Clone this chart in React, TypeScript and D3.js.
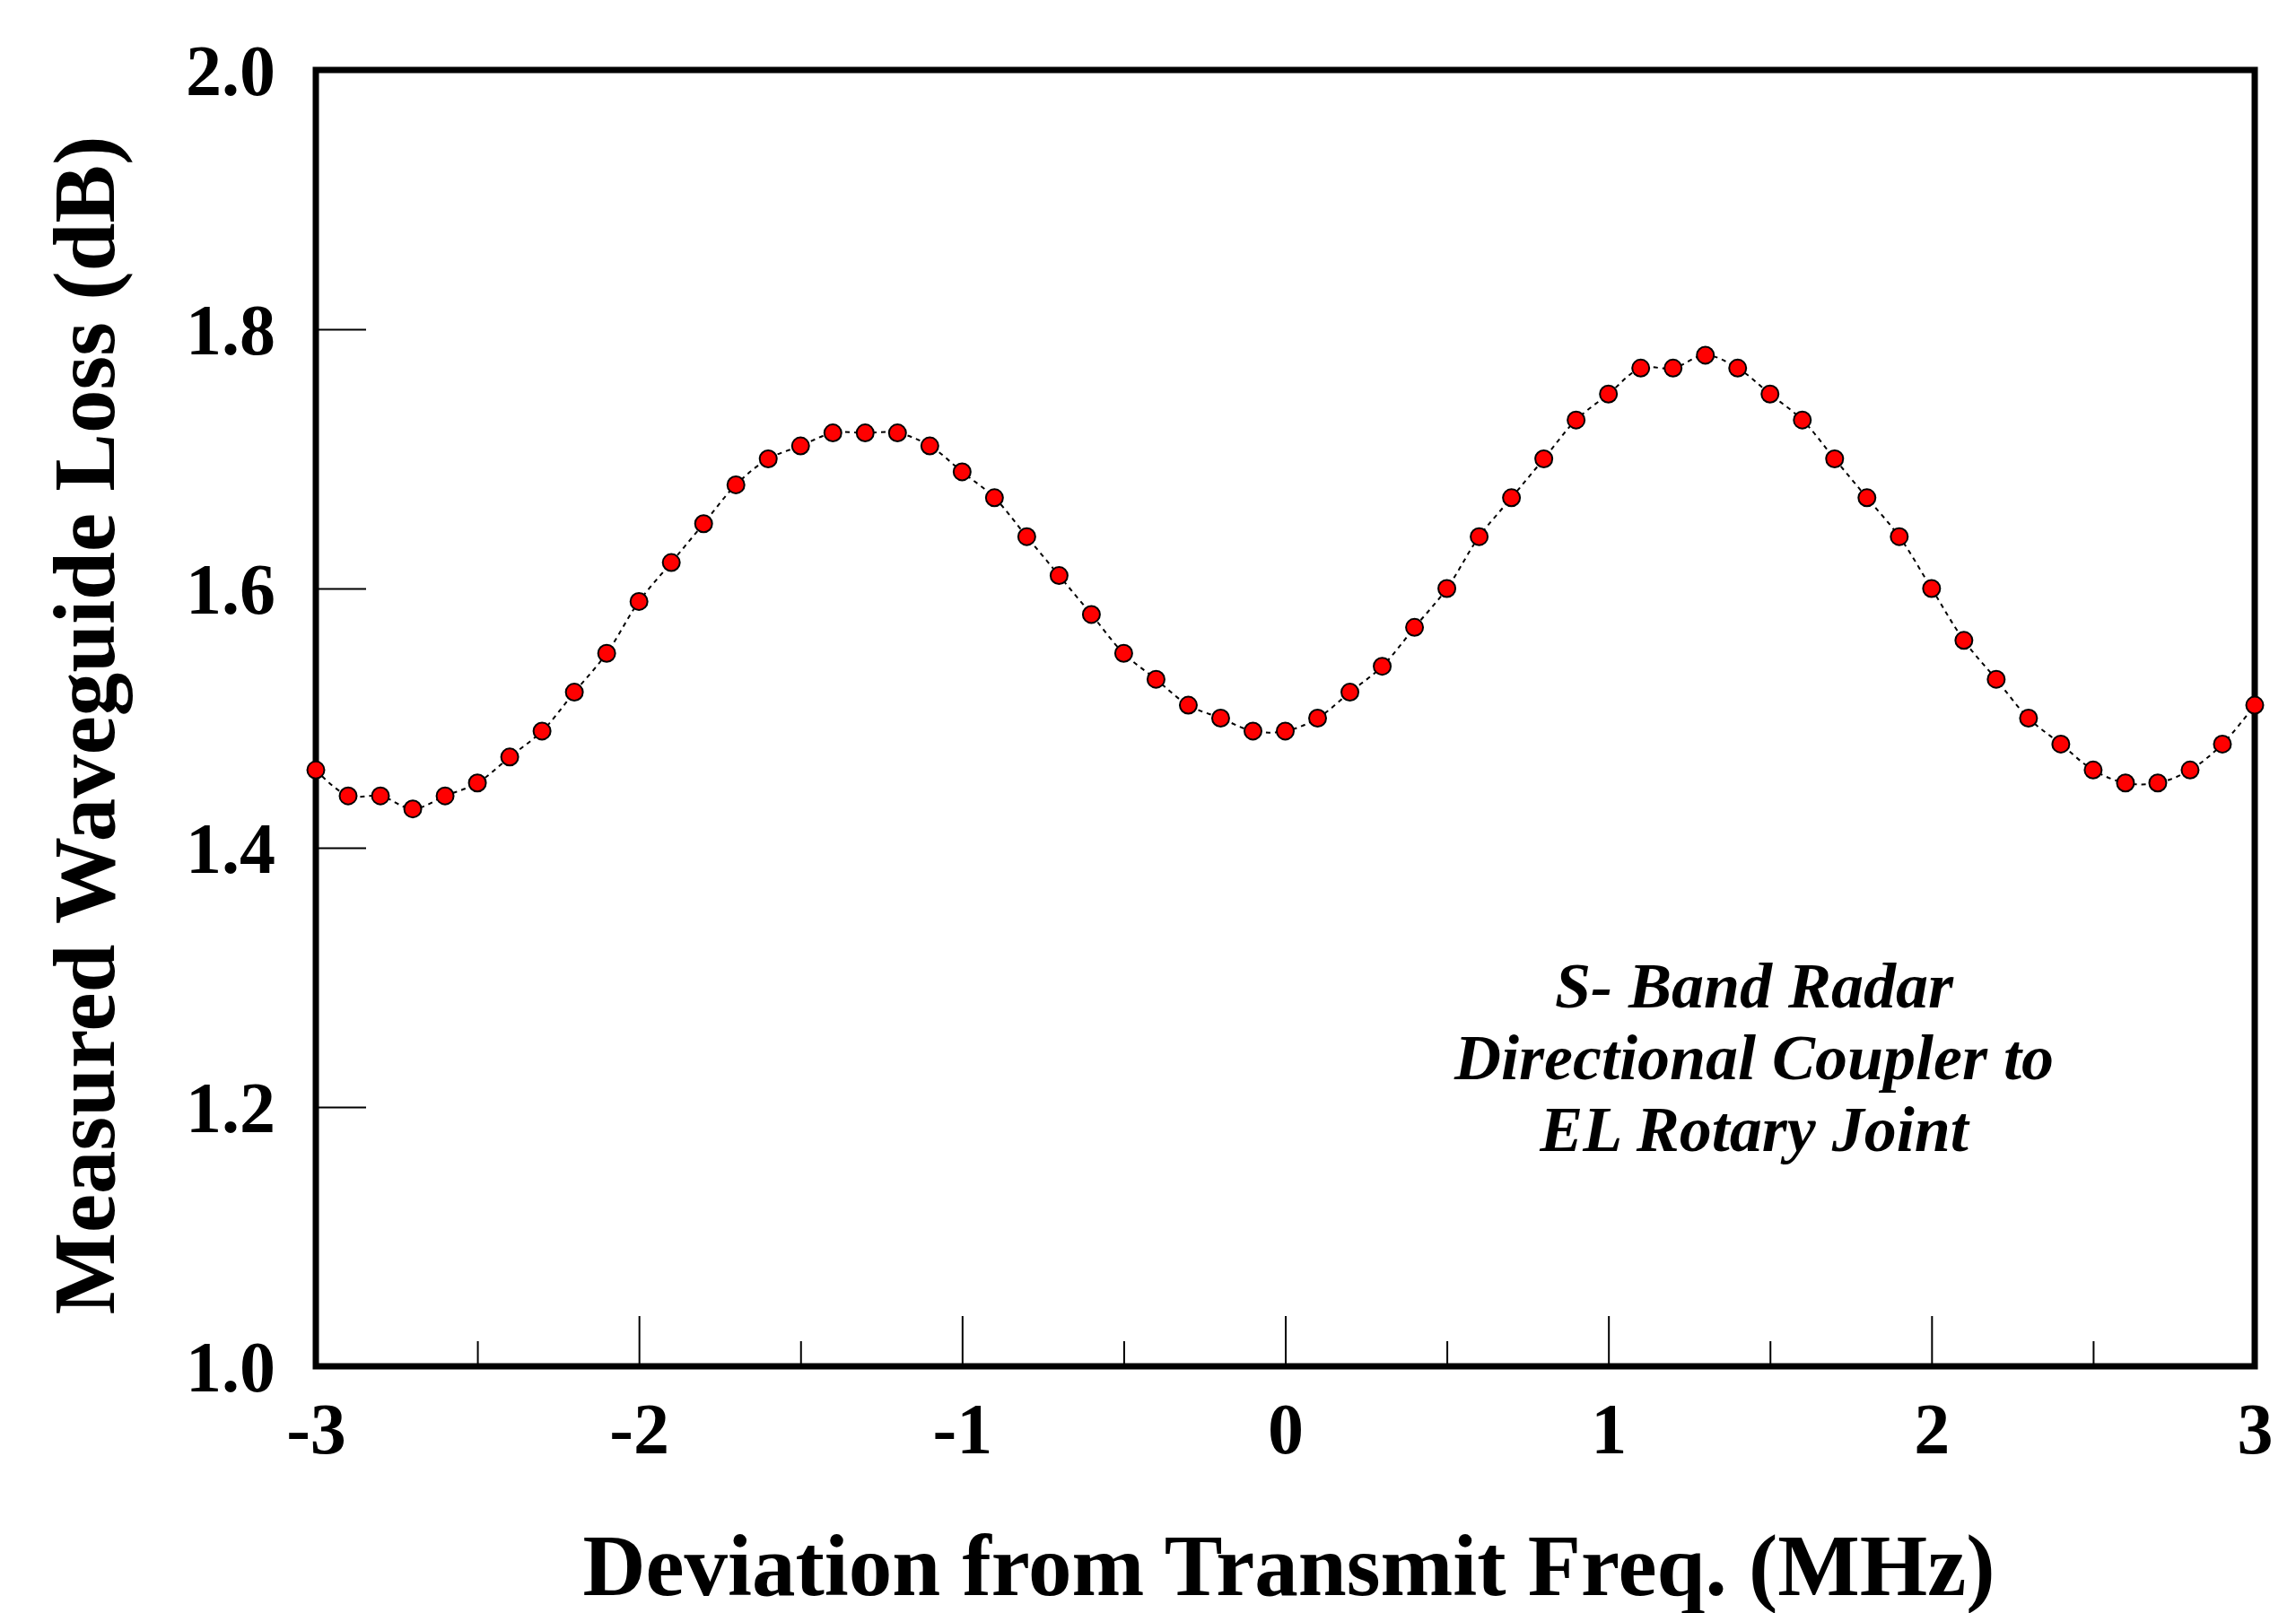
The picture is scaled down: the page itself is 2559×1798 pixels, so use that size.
import React, { useEffect, useRef } from 'react';
import * as d3 from 'd3';

// deviation from transmit frequency (MHz), step 0.1
const freqs = d3.range(61).map(i => Math.round((-3 + i * 0.1) * 10) / 10);

// measured waveguide loss (dB)
const loss = [
  1.46, 1.44, 1.44, 1.43, 1.44, 1.45, 1.47, 1.49, 1.52, 1.55,
  1.59, 1.62, 1.65, 1.68, 1.70, 1.71, 1.72, 1.72, 1.72, 1.71,
  1.69, 1.67, 1.64, 1.61, 1.58, 1.55, 1.53, 1.51, 1.50, 1.49,
  1.49, 1.50, 1.52, 1.54, 1.57, 1.60, 1.64, 1.67, 1.70, 1.73,
  1.75, 1.77, 1.77, 1.78, 1.77, 1.75, 1.73, 1.70, 1.67, 1.64,
  1.60, 1.56, 1.53, 1.50, 1.48, 1.46, 1.45, 1.45, 1.46, 1.48,
  1.51,
];

const xTicks = [-3, -2, -1, 0, 1, 2, 3];
const xMinorTicks = [-2.5, -1.5, -0.5, 0.5, 1.5, 2.5];
const yTicks = [1.0, 1.2, 1.4, 1.6, 1.8, 2.0];
const noteLines = ['S- Band Radar', 'Directional Coupler to', 'EL Rotary Joint'];

function LossChart() {
  const ref = useRef(null);

  useEffect(() => {
    const W = 2559, H = 1798;
    const m = { left: 352, right: 2513, top: 78, bottom: 1523 };
    const font = '"Liberation Serif", "Times New Roman", serif';

    const svg = d3.select(ref.current)
      .attr('width', W)
      .attr('height', H)
      .style('background', '#fff');
    svg.selectAll('*').remove();

    const x = d3.scaleLinear().domain([-3, 3]).range([m.left, m.right]);
    const y = d3.scaleLinear().domain([1.0, 2.0]).range([m.bottom, m.top]);

    // y axis, ticks pointing inward
    const yAxis = svg.append('g')
      .attr('transform', `translate(${m.left},0)`)
      .call(d3.axisLeft(y).tickValues(yTicks).tickFormat(d3.format('.1f'))
        .tickSize(-56).tickPadding(45));
    yAxis.select('.domain').remove();
    yAxis.selectAll('line').attr('stroke', '#000').attr('stroke-width', 2);
    yAxis.selectAll('text')
      .attr('font-family', font).attr('font-weight', 'bold')
      .attr('font-size', 80).attr('fill', '#000').attr('dy', '0.34em');

    // x axis (plain hyphen for negatives)
    const xAxis = svg.append('g')
      .attr('transform', `translate(0,${m.bottom})`)
      .call(d3.axisBottom(x).tickValues(xTicks).tickFormat(d => String(d))
        .tickSize(-56).tickPadding(40));
    xAxis.select('.domain').remove();
    xAxis.selectAll('line').attr('stroke', '#000').attr('stroke-width', 2);
    xAxis.selectAll('text')
      .attr('font-family', font).attr('font-weight', 'bold')
      .attr('font-size', 80).attr('fill', '#000');

    const xMinor = svg.append('g')
      .attr('transform', `translate(0,${m.bottom})`)
      .call(d3.axisBottom(x).tickValues(xMinorTicks).tickFormat(() => '').tickSize(-28));
    xMinor.select('.domain').remove();
    xMinor.selectAll('line').attr('stroke', '#000').attr('stroke-width', 2);

    // frame
    svg.append('rect')
      .attr('x', m.left).attr('y', m.top)
      .attr('width', m.right - m.left).attr('height', m.bottom - m.top)
      .attr('fill', 'none').attr('stroke', '#000').attr('stroke-width', 7);

    const data = freqs.map((f, i) => ({ f, v: loss[i] }));

    const line = d3.line()
      .x(d => x(d.f))
      .y(d => y(d.v))
      .curve(d3.curveCatmullRom);

    svg.append('path')
      .datum(data)
      .attr('d', line)
      .attr('fill', 'none')
      .attr('stroke', '#000')
      .attr('stroke-width', 2)
      .attr('stroke-dasharray', '5,5');

    svg.selectAll('.pt')
      .data(data)
      .enter()
      .append('circle')
      .attr('class', 'pt')
      .attr('cx', d => x(d.f))
      .attr('cy', d => y(d.v))
      .attr('r', 9.5)
      .attr('fill', '#ff0000')
      .attr('stroke', '#000')
      .attr('stroke-width', 2);

    // annotation
    svg.append('g').selectAll('text')
      .data(noteLines)
      .enter()
      .append('text')
      .attr('x', 1955)
      .attr('y', (d, i) => 1123 + i * 80)
      .attr('text-anchor', 'middle')
      .attr('font-family', font)
      .attr('font-weight', 'bold')
      .attr('font-style', 'italic')
      .attr('font-size', 72)
      .text(d => d);

    // axis titles
    svg.append('text')
      .attr('x', (m.left + m.right) / 2 + 4)
      .attr('y', 1778)
      .attr('text-anchor', 'middle')
      .attr('font-family', font)
      .attr('font-weight', 'bold')
      .attr('font-size', 97)
      .text('Deviation from Transmit Freq. (MHz)');

    svg.append('text')
      .attr('transform', `translate(127,${(m.top + m.bottom) / 2 + 8}) rotate(-90)`)
      .attr('text-anchor', 'middle')
      .attr('font-family', font)
      .attr('font-weight', 'bold')
      .attr('font-size', 97)
      .text('Measured Waveguide Loss (dB)');
  }, []);

  return <svg ref={ref} style={{ position: 'absolute', left: 0, top: 0 }}></svg>;
}

export default function App() {
  return <LossChart />;
}
